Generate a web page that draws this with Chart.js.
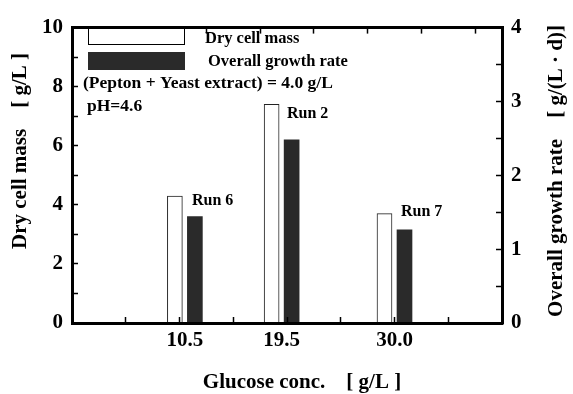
<!DOCTYPE html>
<html>
<head>
<meta charset="utf-8">
<script src="https://cdn.jsdelivr.net/npm/chart.js@4.4.0/dist/chart.umd.min.js"></script>
<style>
html, body { margin: 0; padding: 0; background: #fff; }
#wrap { width: 573px; height: 394px; }
</style>
</head>
<body>
<div id="wrap"><canvas id="growthChart"></canvas></div>
<script>
// values
const glucose = [10.5, 19.5, 30.0];
const glucoseLabels = ["10.5", "19.5", "30.0"];
const dryCellMass = [4.3, 7.4, 3.7];
const growthRate = [1.44, 2.48, 1.26];
const runNames = ["Run 6", "Run 2", "Run 7"];
const xMinorTicks = [0, 5, 10, 15, 20, 25, 30, 35, 40];

const serif = '"Liberation Serif", "Times New Roman", serif';
Chart.defaults.font.family = serif;
Chart.defaults.font.weight = "bold";
Chart.defaults.color = "#000";

const hidden = "rgba(0,0,0,0)";

const textPlugin = {
    id: "figureText",
    afterDraw(chart) {
        const ctx = chart.ctx;
        ctx.save();
        ctx.fillStyle = "#000";
        ctx.textBaseline = "middle";

        // axis titles
        ctx.font = "bold 21px " + serif;
        ctx.textAlign = "center";
        ctx.fillText("Glucose conc.    [ g/L ]", 302, 383);
        ctx.save();
        ctx.translate(21, 151);
        ctx.rotate(-Math.PI / 2);
        ctx.fillText("Dry cell mass    [ g/L ]", 0, 0);
        ctx.restore();
        ctx.save();
        ctx.translate(557, 171);
        ctx.rotate(-Math.PI / 2);
        ctx.fillText("Overall growth rate    [ g/(L \u00b7 d)]", 0, 0);
        ctx.restore();

        // legend
        const ds = chart.data.datasets;
        ctx.lineWidth = 1;
        ctx.fillStyle = ds[0].backgroundColor;
        ctx.fillRect(88.5, 28.5, 96, 16);
        ctx.strokeStyle = "#000";
        ctx.strokeRect(88.5, 28.5, 96, 16);
        ctx.fillStyle = ds[1].backgroundColor;
        ctx.fillRect(88, 52, 97, 18);

        ctx.fillStyle = "#000";
        ctx.textAlign = "left";
        ctx.font = "bold 16.5px " + serif;
        ctx.fillText(ds[0].label, 205, 39);
        ctx.fillText(ds[1].label, 208, 62);
        ctx.font = "bold 17.5px " + serif;
        ctx.fillText("(Pepton + Yeast extract) = 4.0 g/L", 83, 83);
        ctx.fillText("pH=4.6", 87, 106);

        // run labels
        ctx.font = "bold 16px " + serif;
        const runPos = [[192, 201], [287, 114], [401, 212]];
        runNames.forEach((name, i) => ctx.fillText(name, runPos[i][0], runPos[i][1]));
        ctx.restore();
    }
};

const ctx = document.getElementById("growthChart").getContext("2d");
new Chart(ctx, {
    type: "bar",
    data: {
        datasets: [{
            label: "Dry cell mass",
            data: glucose.map((g, i) => ({ x: g, y: dryCellMass[i] })),
            backgroundColor: "#ffffff",
            borderColor: "#222",
            borderWidth: 1,
            yAxisID: "y",
            barThickness: 20,
            maxBarThickness: 15
        }, {
            label: "Overall growth rate",
            data: glucose.map((g, i) => ({ x: g, y: growthRate[i] })),
            backgroundColor: "#2a2a2a",
            borderColor: "#2a2a2a",
            borderWidth: 0,
            yAxisID: "y2",
            barThickness: 20,
            maxBarThickness: 15
        }]
    },
    options: {
        responsive: true,
        maintainAspectRatio: false,
        animation: false,
        layout: { padding: 0 },
        plugins: {
            legend: { display: false },
            tooltip: { enabled: false }
        },
        scales: {
            x: {
                type: "linear",
                position: "bottom",
                min: 0,
                max: 40,
                offset: false,
                afterBuildTicks: s => {
                    const vals = [...new Set(xMinorTicks.concat(glucose))].sort((a, b) => a - b);
                    s.ticks = vals.map(v => ({ value: v }));
                },
                afterFit: s => { s.height = 71; },
                ticks: {
                    autoSkip: false,
                    maxRotation: 0,
                    padding: 11,
                    font: { size: 21, weight: "bold" },
                    callback: v => {
                        const i = glucose.indexOf(v);
                        return i >= 0 ? glucoseLabels[i] : "";
                    }
                },
                grid: {
                    offset: false,
                    drawOnChartArea: false,
                    tickLength: -6,
                    tickWidth: 1.5,
                    z: 1,
                    color: "#000",
                    tickColor: c => (c.tick && xMinorTicks.includes(c.tick.value)) ? "#000" : hidden
                },
                border: { color: "#000", width: 3, z: 1 }
            },
            x2: {
                type: "linear",
                position: "top",
                min: 0,
                max: 40,
                offset: false,
                afterFit: s => { s.height = 15; },
                ticks: { stepSize: 5, display: false },
                grid: { drawOnChartArea: false, tickLength: -6, tickWidth: 1.5, color: "#000", z: 1 },
                border: { color: "#000", width: 3, z: 1 }
            },
            y: {
                position: "left",
                min: 0,
                max: 10,
                afterFit: s => { s.width = 72; },
                ticks: {
                    stepSize: 1,
                    padding: 15,
                    font: { size: 21, weight: "bold" },
                    callback: v => (v % 2 === 0 ? v : "")
                },
                grid: { drawOnChartArea: false, tickLength: -6, tickWidth: 1.5, color: "#000", z: 1 },
                border: { color: "#000", width: 3, z: 1 }
            },
            y2: {
                position: "right",
                min: 0,
                max: 4,
                afterFit: s => { s.width = 71; },
                ticks: {
                    stepSize: 0.5,
                    padding: 15,
                    font: { size: 21, weight: "bold" },
                    callback: v => (Number.isInteger(v) ? v : "")
                },
                grid: { drawOnChartArea: false, tickLength: -6, tickWidth: 1.5, color: "#000", z: 1 },
                border: { color: "#000", width: 3, z: 1 }
            }
        }
    },
    plugins: [textPlugin]
});
</script>
</body>
</html>
